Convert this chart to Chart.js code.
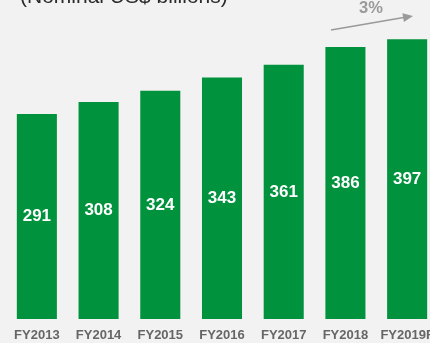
<!DOCTYPE html>
<html>
<head>
<meta charset="utf-8">
<script src="https://cdn.jsdelivr.net/npm/chart.js@4"></script>
<style>
  html, body { margin: 0; padding: 0; background: #f2f2f2; overflow: hidden; }
  #wrap { width: 440px; height: 343px; }
</style>
</head>
<body>
<div id="wrap"><canvas id="spendChart" width="440" height="343"></canvas></div>
<script>
  const years = ['FY2013', 'FY2014', 'FY2015', 'FY2016', 'FY2017', 'FY2018', 'FY2019F'];
  const spend = [291, 308, 324, 343, 361, 386, 397];
  const unitNote = '(Nominal US$ billions)';
  const growthNote = '3%';

  const green = '#00923c';
  const greyText = '#666666';

  // heading, growth arrow and the in-bar values
  const extras = {
    id: 'extras',
    afterDatasetsDraw(chart) {
      const c = chart.ctx;
      c.save();

      c.fillStyle = '#2b2b2b';
      c.font = '21px "Liberation Sans", Arial, sans-serif';
      c.textAlign = 'left';
      c.textBaseline = 'alphabetic';
      c.fillText(unitNote, 20, 3);

      const bars = chart.getDatasetMeta(0).data;
      c.fillStyle = '#ffffff';
      c.font = 'bold 17px "Liberation Sans", Arial, sans-serif';
      c.textAlign = 'center';
      c.textBaseline = 'middle';
      bars.forEach((b, i) => {
        c.fillText(String(spend[i]), b.x, (b.y + b.base) / 2);
      });

      // arrow
      const x0 = 331, y0 = 30, x1 = 413, y1 = 16;
      const ang = Math.atan2(y1 - y0, x1 - x0);
      c.strokeStyle = '#9a9a9a';
      c.fillStyle = '#9a9a9a';
      c.lineWidth = 1.5;
      c.beginPath();
      c.moveTo(x0, y0);
      c.lineTo(x1 - 8 * Math.cos(ang), y1 - 8 * Math.sin(ang));
      c.stroke();
      c.beginPath();
      c.moveTo(x1, y1);
      c.lineTo(x1 - 10 * Math.cos(ang) + 4.5 * Math.sin(ang), y1 - 10 * Math.sin(ang) - 4.5 * Math.cos(ang));
      c.lineTo(x1 - 10 * Math.cos(ang) - 4.5 * Math.sin(ang), y1 - 10 * Math.sin(ang) + 4.5 * Math.cos(ang));
      c.closePath();
      c.fill();

      c.font = 'bold 16.5px "Liberation Sans", Arial, sans-serif';
      c.textBaseline = 'alphabetic';
      c.fillText(growthNote, 371, 13);
      c.restore();
    }
  };

  new Chart(document.getElementById('spendChart'), {
    type: 'bar',
    data: {
      labels: years,
      datasets: [{
        data: spend,
        backgroundColor: green,
        borderWidth: 0,
        categoryPercentage: 1,
        barPercentage: 0.649
      }]
    },
    options: {
      responsive: false,
      animation: false,
      layout: { padding: { left: 6, right: 2, top: 2, bottom: 0 } },
      plugins: { legend: { display: false }, tooltip: { enabled: false } },
      scales: {
        y: { display: false, min: 0, max: 450 },
        x: {
          grid: { display: false },
          border: { display: false },
          ticks: {
            color: greyText,
            padding: 1,
            maxRotation: 0,
            autoSkip: false,
            font: { family: '"Liberation Sans", Arial, sans-serif', size: 13, weight: 'bold' }
          },
          afterFit(scale) { scale.height = 24; }
        }
      }
    },
    plugins: [extras]
  });
</script>
</body>
</html>
